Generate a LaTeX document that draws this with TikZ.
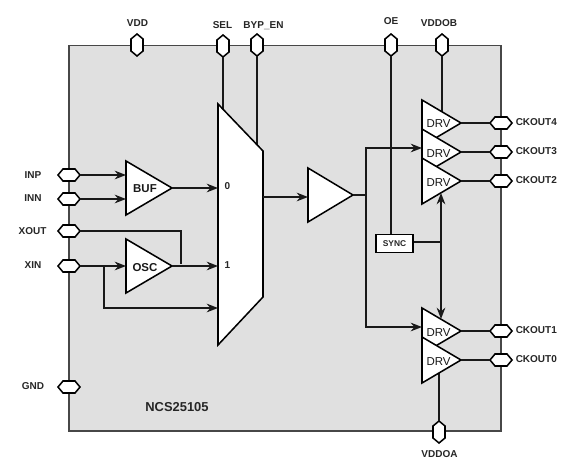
\documentclass[tikz,border=0pt]{standalone}
\usepackage{fontspec}
\setmainfont{Liberation Sans}
\usetikzlibrary{arrows.meta,calc}
\tikzset{
  pinshape/.style={draw=black,fill=white,line width=1.15pt,line join=miter},
  wire/.style={line width=1.2pt,draw=black!90},
  arrowwire/.style={wire,-{Stealth[length=8.5pt,width=6.5pt]}},
  block/.style={draw=black,fill=white,line width=1.15pt,line join=miter},
  pinlabel/.style={font=\fontsize{7.5}{9}\selectfont\bfseries,text=black!85,inner sep=0pt},
  amplabel/.style={font=\fontsize{8.6}{10}\selectfont,text=black!90,inner sep=0pt},
}
\newcommand{\ampblock}[5]{% name, left x, top y, bottom y, tip x
  \coordinate (#1-a) at (#2,#3);
  \coordinate (#1-b) at (#2,#4);
  \coordinate (#1-c) at (#5,{(#3+#4)/2});
  \draw[block] (#1-a) -- (#1-c) -- (#1-b) -- cycle;
}
\newcommand{\hpin}[3]{% name, x, y : horizontal hexagon
  \coordinate (#1) at (#2,#3);
  \coordinate (#1-w) at ($(#1)+(-11,0)$);
  \coordinate (#1-e) at ($(#1)+(11,0)$);
  \draw[pinshape] (#1-w) -- ++(5,-6) -- ++(12,0) -- (#1-e) -- ++(-5,6) -- ++(-12,0) -- cycle;
}
\newcommand{\vpin}[3]{% name, x, y : vertical hexagon
  \coordinate (#1) at (#2,#3);
  \coordinate (#1-n) at ($(#1)+(0,-11)$);
  \coordinate (#1-s) at ($(#1)+(0,11)$);
  \draw[pinshape] (#1-n) -- ++(6,5) -- ++(0,12) -- (#1-s) -- ++(-6,-5) -- ++(0,-12) -- cycle;
}
\begin{document}
\begin{tikzpicture}[x=0.75pt,y=-0.75pt]
\useasboundingbox (0,0) rectangle (571,467);
\fill[white] (0,0) rectangle (571,467);
\draw[fill=black!12,draw=black!72,line width=1.1pt] (69,45.5) rectangle (501,431);

% pins
\vpin{vdd}{137}{45}
\vpin{sel}{223}{46}
\vpin{byp}{257}{45}
\vpin{oe}{391}{45}
\vpin{vddob}{442}{45}
\vpin{vddoa}{439}{432}
\hpin{inp}{69}{175}
\hpin{inn}{69}{199}
\hpin{xout}{69}{231}
\hpin{xin}{69}{266}
\hpin{gnd}{69}{387}
\hpin{ck4}{501}{123}
\hpin{ck3}{501}{152}
\hpin{ck2}{501}{181}
\hpin{ck1}{501}{331}
\hpin{ck0}{501}{360}

\coordinate (selin) at (223,112);
\coordinate (bypin) at (257,148);
\coordinate (vbin) at (442,114);
\coordinate (vain) at (439,372);
\draw[wire] (sel-s) -- (selin);
\draw[wire] (byp-s) -- (bypin);
\draw[wire] (vddob-s) -- (vbin);
\draw[wire] (vddoa-n) -- (vain);

% mux
\coordinate (m1) at (218,104);
\coordinate (m2) at (263,151);
\coordinate (m3) at (263,297);
\coordinate (m4) at (218,345);
\draw[block] (m1) -- (m2) -- (m3) -- (m4) -- cycle;

% amplifiers
\ampblock{buf}{126}{161}{215}{172}
\ampblock{osc}{126}{239}{293}{172}
\ampblock{main}{308}{168}{222}{353}
\ampblock{d4}{422}{100}{146}{461}
\ampblock{d3}{422}{129}{175}{461}
\ampblock{d2}{422}{158}{204}{461}
\ampblock{d1}{422}{308}{354}{461}
\ampblock{d0}{422}{337}{383}{461}

% sync
\node[block,minimum width=27.4pt,minimum height=13.5pt,inner sep=0pt,font=\fontsize{6.3}{8}\selectfont\bfseries,text=black!85] (sync) at (394.5,243.5) {SYNC};

% named wire points
\coordinate (inpe) at (126,175);
\coordinate (inne) at (126,199);
\coordinate (m0) at (218,188);
\coordinate (mi1) at (218,266);
\coordinate (mi2) at (218,308);
\coordinate (xinb) at (104,266);
\coordinate (xinc) at (104,308);
\coordinate (osci) at (126,266);
\coordinate (xoutb) at (181,231);
\coordinate (xoutc) at (181,264);
\coordinate (mo) at (263,197);
\coordinate (mainin) at (308,197);
\coordinate (split) at (366,195);
\coordinate (upp) at (366,148);
\coordinate (low) at (366,327);
\coordinate (dup) at (422,148);
\coordinate (dlo) at (422,327);
\coordinate (bus) at (441,242);
\coordinate (busu) at (441,193);
\coordinate (busd) at (441,319);

\draw[arrowwire] (inp-e) -- (inpe);
\draw[arrowwire] (inn-e) -- (inne);
\draw[arrowwire] (buf-c) -- (m0);
\draw[arrowwire] (osc-c) -- (mi1);
\draw[arrowwire] (xin-e) -- (osci);
\draw[arrowwire] (xinb) -- (xinc) -- (mi2);
\draw[wire] (xout-e) -- (xoutb) -- (xoutc);
\draw[arrowwire] (mo) -- (mainin);
\draw[wire] (main-c) -- (split);
\draw[arrowwire] (split) -- (upp) -- (dup);
\draw[arrowwire] (split) -- (low) -- (dlo);
\draw[wire] (oe-s) -- (oe-s |- sync.north);
\draw[wire] (sync.east |- bus) -- (bus);
\draw[arrowwire] (bus) -- (busu);
\draw[arrowwire] (bus) -- (busd);
\draw[wire] (d4-c) -- (ck4-w);
\draw[wire] (d3-c) -- (ck3-w);
\draw[wire] (d2-c) -- (ck2-w);
\draw[wire] (d1-c) -- (ck1-w);
\draw[wire] (d0-c) -- (ck0-w);

% block labels
\node[amplabel,font=\fontsize{8.6}{10}\selectfont\bfseries] (buflab) at (145,189) {BUF};
\node[amplabel,font=\fontsize{8.6}{10}\selectfont\bfseries] (osclab) at (145,267.5) {OSC};
\node[amplabel] (d4lab) at (438.5,124) {DRV};
\node[amplabel] (d3lab) at (438.5,153.5) {DRV};
\node[amplabel] (d2lab) at (438.5,182.5) {DRV};
\node[amplabel] (d1lab) at (438.5,332.5) {DRV};
\node[amplabel] (d0lab) at (438.5,361.5) {DRV};
\node[pinlabel] (m0lab) at (227.5,186) {0};
\node[pinlabel] (m1lab) at (227.5,265) {1};
\node[font=\fontsize{9.7}{12}\selectfont\bfseries,text=black!85,inner sep=0pt] (title) at (177,407.5) {NCS25105};

% pin labels
\node[pinlabel] (l1) at (137.5,23) {VDD};
\node[pinlabel] (l2) at (222.5,25.5) {SEL};
\node[pinlabel] (l3) at (263.5,25.5) {BYP\_EN};
\node[pinlabel] (l4) at (391,21.5) {OE};
\node[pinlabel] (l5) at (439,23) {VDDOB};
\node[pinlabel] (l6) at (439.5,454.5) {VDDOA};
\node[pinlabel] (l7) at (33,175) {INP};
\node[pinlabel] (l8) at (33,198.5) {INN};
\node[pinlabel] (l9) at (32.5,231) {XOUT};
\node[pinlabel] (l10) at (33,265.5) {XIN};
\node[pinlabel] (l11) at (33,386.5) {GND};
\node[pinlabel,anchor=west] (l12) at (515.5,122.5) {CKOUT4};
\node[pinlabel,anchor=west] (l13) at (515.5,151.5) {CKOUT3};
\node[pinlabel,anchor=west] (l14) at (515.5,180.5) {CKOUT2};
\node[pinlabel,anchor=west] (l15) at (515.5,330.5) {CKOUT1};
\node[pinlabel,anchor=west] (l16) at (515.5,359.5) {CKOUT0};
\end{tikzpicture}
\end{document}
